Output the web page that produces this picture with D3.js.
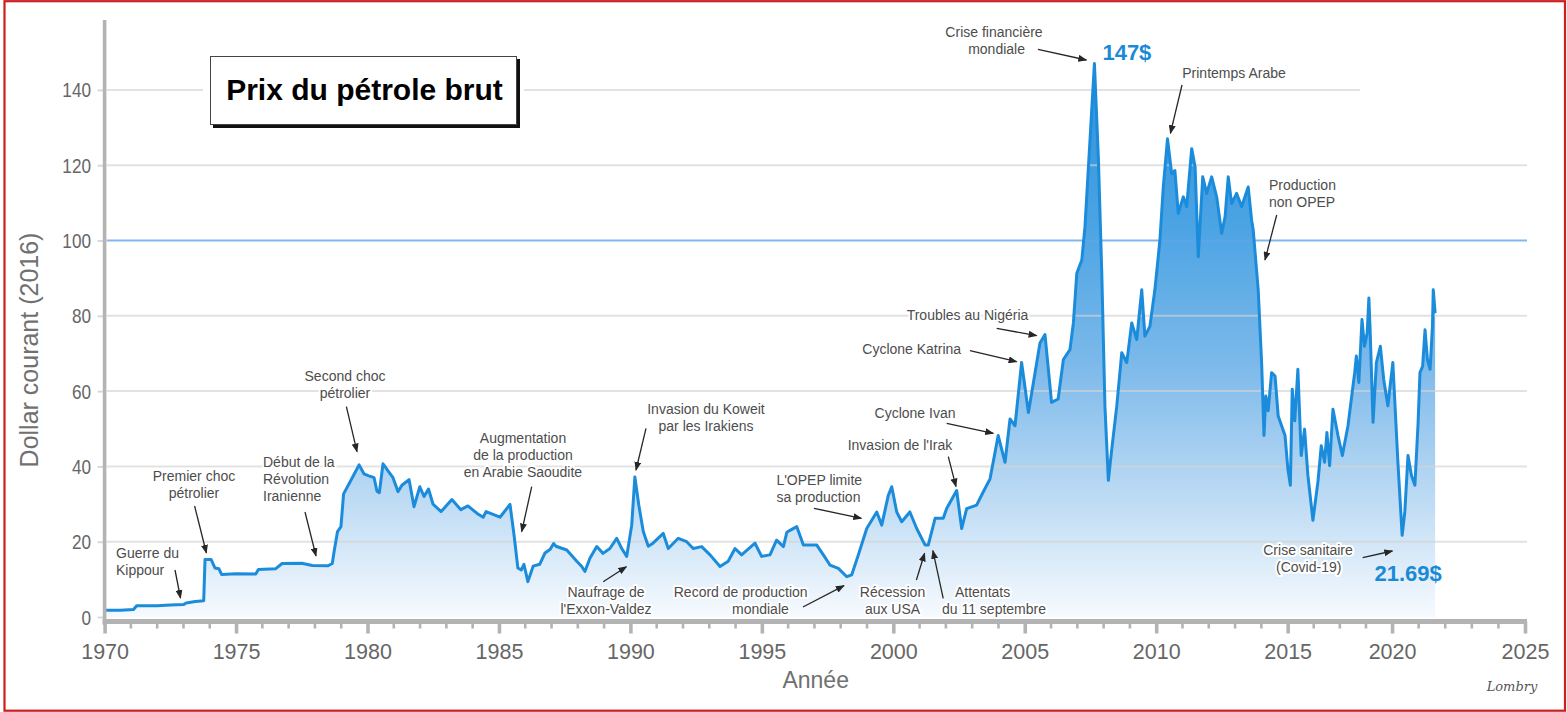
<!DOCTYPE html>
<html>
<head>
<meta charset="utf-8">
<script src="https://cdn.jsdelivr.net/npm/d3@7"></script>
<style>
  html, body { margin: 0; padding: 0; background: #ffffff; }
  svg { display: block; }
  text { font-family: "Liberation Sans", Arial, sans-serif; }
</style>
</head>
<body>
<svg id="chart" width="1567" height="712"></svg>
<script>
// Crude oil price, current dollars (time in decimal years)
const years = [
  1970.00, 1970.60, 1971.10, 1971.22, 1972.00, 1972.50, 1973.00, 1973.10, 1973.45, 1973.77,
  1973.82, 1974.05, 1974.20, 1974.35, 1974.45, 1975.00, 1975.75, 1975.85, 1976.50, 1976.75,
  1977.50, 1977.90, 1978.50, 1978.66, 1978.73, 1978.86, 1978.99, 1979.09, 1979.40, 1979.68,
  1979.87, 1980.05, 1980.25, 1980.36, 1980.45, 1980.59, 1980.76, 1980.97, 1981.16, 1981.31,
  1981.58, 1981.77, 1981.99, 1982.15, 1982.32, 1982.49, 1982.80, 1983.21, 1983.55, 1983.82,
  1984.17, 1984.40, 1984.51, 1985.04, 1985.42, 1985.57, 1985.72, 1985.85, 1985.95, 1986.10,
  1986.30, 1986.55, 1986.75, 1986.95, 1987.08, 1987.17, 1987.58, 1987.96, 1988.15, 1988.27,
  1988.46, 1988.72, 1988.96, 1989.22, 1989.48, 1989.67, 1989.86, 1990.05, 1990.17, 1990.32,
  1990.49, 1990.68, 1990.86, 1991.25, 1991.44, 1991.82, 1992.14, 1992.39, 1992.71, 1993.03,
  1993.41, 1993.72, 1993.98, 1994.23, 1994.74, 1994.99, 1995.31, 1995.56, 1995.82, 1995.95,
  1996.07, 1996.33, 1996.58, 1997.09, 1997.34, 1997.59, 1997.91, 1998.23, 1998.42, 1998.67,
  1998.99, 1999.37, 1999.56, 1999.81, 1999.94, 2000.13, 2000.32, 2000.63, 2000.89, 2001.21,
  2001.33, 2001.59, 2001.90, 2002.03, 2002.41, 2002.60, 2002.79, 2003.17, 2003.42, 2003.68,
  2003.99, 2004.25, 2004.44, 2004.63, 2004.88, 2005.14, 2005.33, 2005.58, 2005.77, 2006.02,
  2006.27, 2006.47, 2006.72, 2006.85, 2006.98, 2007.17, 2007.29, 2007.48, 2007.65, 2007.80,
  2007.93, 2008.05, 2008.18, 2008.31, 2008.50, 2008.69, 2008.88, 2009.07, 2009.26, 2009.45,
  2009.57, 2009.76, 2009.95, 2010.14, 2010.27, 2010.43, 2010.59, 2010.71, 2010.84, 2011.03,
  2011.16, 2011.35, 2011.48, 2011.60, 2011.77, 2011.92, 2012.11, 2012.30, 2012.49, 2012.62,
  2012.74, 2012.87, 2013.06, 2013.25, 2013.50, 2013.63, 2013.69, 2013.88, 2014.01, 2014.10,
  2014.17, 2014.26, 2014.39, 2014.52, 2014.64, 2014.77, 2014.90, 2015.01, 2015.13, 2015.22,
  2015.34, 2015.49, 2015.65, 2015.81, 2015.97, 2016.21, 2016.45, 2016.61, 2016.77, 2016.88,
  2017.01, 2017.17, 2017.41, 2017.62, 2017.89, 2018.21, 2018.29, 2018.41, 2018.56, 2018.68,
  2018.81, 2018.89, 2018.95, 2019.09, 2019.25, 2019.44, 2019.60, 2019.80, 2020.03, 2020.22,
  2020.38, 2020.48, 2020.60, 2020.73, 2020.86, 2020.98, 2021.05, 2021.15, 2021.24, 2021.33,
  2021.43, 2021.52, 2021.55, 2021.62
];
const prices = [
  1.8, 1.8, 2.0, 3.0, 3.0, 3.2, 3.3, 3.7, 4.1, 4.3,
  15.3, 15.3, 13.0, 12.8, 11.3, 11.5, 11.4, 12.6, 12.8, 14.2,
  14.3, 13.7, 13.6, 14.2, 17.4, 22.7, 24.0, 32.7, 36.7, 40.4,
  38.0, 37.5, 37.0, 33.4, 33.0, 40.7, 39.0, 37.0, 33.3, 35.0,
  36.5, 29.3, 34.6, 32.0, 34.0, 30.0, 28.0, 31.2, 28.5, 29.5,
  27.5, 26.5, 28.0, 26.5, 29.9, 22.0, 13.0, 12.5, 14.0, 9.4,
  13.5, 14.0, 17.0, 18.0, 19.5, 18.8, 17.8, 14.8, 13.4, 12.1,
  15.6, 18.7, 16.9, 18.2, 20.9, 18.2, 16.1, 24.4, 37.2, 29.7,
  22.7, 18.8, 19.6, 22.2, 18.2, 20.9, 20.0, 18.2, 18.7, 16.5,
  13.4, 14.8, 18.2, 16.5, 19.6, 16.1, 16.5, 20.4, 18.7, 22.5,
  23.0, 24.0, 19.1, 19.1, 16.5, 13.8, 12.9, 10.7, 11.2, 16.5,
  23.5, 27.9, 24.4, 32.3, 34.6, 27.9, 25.3, 27.9, 23.5, 19.1,
  19.1, 26.2, 26.2, 28.8, 33.6, 23.5, 28.8, 29.7, 33.2, 36.7,
  48.2, 41.1, 52.6, 50.8, 67.6, 54.3, 62.3, 72.8, 75.0, 57.0,
  57.9, 68.4, 71.0, 78.1, 91.3, 94.8, 103.6, 126.5, 147, 122.0,
  91.3, 56.0, 36.3, 44.6, 56.0, 70.2, 67.6, 78.1, 73.7, 86.9,
  74.6, 77.2, 86.9, 100.0, 114.2, 127.0, 117.7, 118.6, 107.2, 111.6,
  109.0, 124.4, 119.5, 95.7, 116.9, 112.5, 116.9, 111.6, 101.9, 106.3,
  116.9, 109.8, 112.5, 109.0, 114.2, 105.4, 102.8, 86.9, 67.6, 48.2,
  58.7, 54.8, 64.9, 64.0, 53.4, 50.8, 48.2, 39.4, 35.0, 60.5,
  52.1, 65.8, 42.9, 49.9, 37.6, 25.7, 35.9, 45.5, 41.1, 49.0,
  40.2, 55.2, 48.2, 42.9, 50.8, 64.9, 69.3, 62.3, 79.0, 71.9,
  75.5, 84.7, 76.3, 51.7, 67.6, 71.9, 63.1, 56.1, 67.6, 41.1,
  21.69, 27.9, 42.9, 37.6, 35.0, 51.7, 64.9, 66.6, 76.3, 68.4,
  65.8, 77.2, 86.9, 80.7
];

const majorYears  = [1970, 1975, 1980, 1985, 1990, 1995, 2000, 2005, 2010, 2015, 2020, 2025];
const majorLabels = ["1970", "1975", "1980", "1985", "1990", "1995", "2000", "2005", "2010", "2015", "2020", "2025"];
const priceTicks  = [0, 20, 40, 60, 80, 100, 120, 140];
const priceLabels = ["0", "20", "40", "60", "80", "100", "120", "140"];

const titleText  = "Prix du pétrole brut";
const xTitle     = "Année";
const yTitle     = "Dollar courant (2016)";
const signature  = "Lombry";

// Event notes: text lines, line positions and arrow (start -> tip)
const notes = [
  { lines: ["Guerre du", "Kippour"], x: 116, y: 553, anchor: "start", arrow: [175, 570, 180.5, 598] },
  { lines: ["Premier choc", "pétrolier"], x: 194, y: 476, arrow: [194.6, 506, 206.4, 553] },
  { lines: ["Début de la", "Révolution", "Iranienne"], x: 263, y: 462, anchor: "start", arrow: [305, 512, 316, 556] },
  { lines: ["Second choc", "pétrolier"], x: 345, y: 376, arrow: [346.4, 406.7, 357, 451.7] },
  { lines: ["Augmentation", "de la production", "en Arabie Saoudite"], x: 523, y: 438, arrow: [531.7, 486.7, 521.7, 531.7] },
  { lines: ["Naufrage de", "l'Exxon-Valdez"], x: 606, y: 592, arrow: [603.2, 581.7, 626.4, 566.7] },
  { lines: ["Invasion du Koweit", "par les Irakiens"], x: 706, y: 409, arrow: [646, 428.3, 636, 470] },
  { lines: ["Record de production", "mondiale"], xs: [740.7, 760.4], y: 592, arrow: [803, 607, 844, 585.7] },
  { lines: ["L'OPEP limite", "sa production"], x: 776.4, y: 480, anchor: "start", arrow: [814, 508.3, 861.4, 518.3] },
  { lines: ["Récession", "aux USA"], x: 892.5, y: 592, arrow: [916.4, 580, 924.6, 553.3] },
  { lines: ["Attentats", "du 11 septembre"], xs: [982.6, 994], y: 592, arrow: [943.2, 598.3, 932.9, 550.7] },
  { lines: ["Invasion de l'Irak"], x: 900, y: 445, arrow: [948.3, 456.7, 956, 486.7] },
  { lines: ["Cyclone Ivan"], x: 915, y: 413.3, arrow: [946.7, 423.3, 993.3, 433.3] },
  { lines: ["Cyclone Katrina"], x: 911.7, y: 349.3, arrow: [970, 350.7, 1016.7, 361.7] },
  { lines: ["Troubles au Nigéria"], x: 967.5, y: 315, arrow: [996.7, 328.3, 1036.7, 335.7] },
  { lines: ["Crise financière", "mondiale"], xs: [994, 996.6], y: 31.7, arrow: [1038, 49.3, 1086.4, 60] },
  { lines: ["Printemps Arabe"], x: 1234, y: 72.7, arrow: [1182, 85, 1170.4, 133.3] },
  { lines: ["Production", "non OPEP"], x: 1269, y: 185, anchor: "start", arrow: [1276.7, 215, 1265, 260] },
  { lines: ["Crise sanitaire", "(Covid-19)"], xs: [1308, 1308.7], y: 550, arrow: [1362.7, 557.7, 1392.4, 551] }
];

const data = years.map((yr, i) => ({ year: yr, price: prices[i] }));

const svg = d3.select("#chart");
const W = 1567, H = 712;

// Scales: the time axis is piecewise (the 2015-2020 stretch is narrower on this chart)
const X0 = 104.6, U = 26.29;
const x = d3.scaleLinear()
  .domain([1970, 2015, 2020, 2025])
  .range([X0, X0 + 45 * U, X0 + 45 * U + 104.4, 1525]);
const y = d3.scaleLinear().domain([0, 140]).range([617, 89.9]);

const defs = svg.append("defs");
const grad = defs.append("linearGradient")
  .attr("id", "areaFill").attr("gradientUnits", "userSpaceOnUse")
  .attr("x1", 0).attr("x2", 0).attr("y1", y(150)).attr("y2", y(0));
[[0, "#2c8fdc"], [0.3, "#4aa3e3"], [0.55, "#7cb9ea"], [0.75, "#b2d5f2"], [0.9, "#dbebf9"], [1, "#f6fafe"]]
  .forEach(([o, c]) => grad.append("stop").attr("offset", o).attr("stop-color", c));

defs.append("marker")
  .attr("id", "arrowhead").attr("viewBox", "0 0 10 10")
  .attr("refX", 9).attr("refY", 5)
  .attr("markerWidth", 9).attr("markerHeight", 7)
  .attr("markerUnits", "userSpaceOnUse").attr("orient", "auto")
  .attr("preserveAspectRatio", "none")
  .append("path").attr("d", "M0,0L10,5L0,10z").attr("fill", "#262626");

// Background
svg.append("rect").attr("width", W).attr("height", H).attr("fill", "#ffffff");

// Area under the price curve
svg.append("path").datum(data)
  .attr("fill", "url(#areaFill)")
  .attr("d", d3.area().x(d => x(d.year)).y0(y(0)).y1(d => y(d.price)));

// Horizontal gridlines (drawn over the fill, under the curve)
const grid = svg.append("g");
priceTicks.filter(v => v > 0).forEach(v => {
  grid.append("line")
    .attr("x1", X0 + 2).attr("x2", v === 140 ? 1360 : 1527)
    .attr("y1", y(v)).attr("y2", y(v))
    .attr("stroke", v === 100 ? "rgba(95,165,235,0.8)" : "rgba(210,210,210,0.65)")
    .attr("stroke-width", v === 100 ? 1.8 : 2);
});

// Price curve
svg.append("path").datum(data)
  .attr("fill", "none")
  .attr("stroke", "#1b8cdb")
  .attr("stroke-width", 3)
  .attr("stroke-linejoin", "round")
  .attr("d", d3.line().x(d => x(d.year)).y(d => y(d.price)));

// Y axis
const yAxis = svg.append("g").attr("transform", `translate(${X0},0)`)
  .call(d3.axisLeft(y).tickValues(priceTicks).tickFormat((d, i) => priceLabels[i]).tickSize(7).tickSizeOuter(0));
yAxis.select(".domain").remove();
yAxis.selectAll(".tick line").attr("stroke", "#d8d8d8").attr("stroke-width", 2);
yAxis.selectAll(".tick text")
  .attr("x", -15.5).attr("dy", "0.36em")
  .attr("transform", "scale(0.88,1)")
  .attr("fill", "#666").attr("font-size", 19.5)
  .style("font-family", "'Liberation Sans', Arial, sans-serif");
svg.append("line").attr("x1", X0).attr("x2", X0).attr("y1", 20).attr("y2", 625)
  .attr("stroke", "#b3b3b3").attr("stroke-width", 3.6);

// X axis: minor ticks spread evenly inside each five-year interval
const minorG = svg.append("g");
for (let i = 0; i < majorYears.length - 1; i++) {
  const a = majorYears[i], b = majorYears[i + 1];
  const n = Math.round((x(b) - x(a)) / U);
  d3.range(1, n).forEach(k => {
    const px = x(a) + (x(b) - x(a)) * k / n;
    minorG.append("line").attr("x1", px).attr("x2", px).attr("y1", 621.5).attr("y2", 628.5)
      .attr("stroke", "#b3b3b3").attr("stroke-width", 2.6);
  });
}
const xAxis = svg.append("g").attr("transform", "translate(0,621.5)")
  .call(d3.axisBottom(x).tickValues(majorYears).tickFormat((d, i) => majorLabels[i]).tickSize(12).tickSizeOuter(0));
xAxis.select(".domain").attr("stroke", "#b3b3b3").attr("stroke-width", 5).attr("d", `M${X0 - 2},0H1527`);
xAxis.selectAll(".tick line").attr("stroke", "#b3b3b3").attr("stroke-width", 3.6);
xAxis.selectAll(".tick text")
  .attr("y", 22).attr("fill", "#666").attr("font-size", 21.5)
  .style("font-family", "'Liberation Sans', Arial, sans-serif");

// Axis titles
svg.append("text").attr("x", 815.7).attr("y", 688).attr("text-anchor", "middle")
  .attr("font-size", 23).attr("fill", "#707070").text(xTitle);
svg.append("text").attr("transform", "translate(38,350) rotate(-90)").attr("text-anchor", "middle")
  .attr("font-size", 25).attr("fill", "#707070").text(yTitle);

// Event notes
const notesG = svg.append("g");
notes.forEach(n => {
  notesG.append("line")
    .attr("x1", n.arrow[0]).attr("y1", n.arrow[1]).attr("x2", n.arrow[2]).attr("y2", n.arrow[3])
    .attr("stroke", "#262626").attr("stroke-width", 1.3)
    .attr("marker-end", "url(#arrowhead)");
  n.lines.forEach((t, i) => {
    notesG.append("text")
      .attr("x", n.xs ? n.xs[i] : n.x)
      .attr("y", n.y + i * 17 + 5)
      .attr("text-anchor", n.anchor || "middle")
      .attr("font-size", 14).attr("fill", "#4d4d4d")
      .attr("stroke", "#ffffff").attr("stroke-width", 4).attr("stroke-linejoin", "round")
      .attr("paint-order", "stroke")
      .text(t);
  });
});

// Value callouts for the record high and the 2020 low
const peak = data.reduce((a, b) => (b.price > a.price ? b : a));
const low2020 = data.filter(d => d.year > 2019).reduce((a, b) => (b.price < a.price ? b : a));
svg.append("text").attr("x", x(peak.year) + 8).attr("y", y(peak.price) - 4)
  .attr("font-size", 22).attr("font-weight", "bold").attr("fill", "#1a8ad6")
  .text(`${peak.price}$`);
svg.append("text").attr("x", x(low2020.year) + 6).attr("y", y(low2020.price) + 46)
  .attr("text-anchor", "middle")
  .attr("font-size", 22).attr("font-weight", "bold").attr("fill", "#1a8ad6")
  .text(`${low2020.price}$`);

// Title box with drop shadow
svg.append("rect").attr("x", 203).attr("y", 50).attr("width", 321).attr("height", 82).attr("fill", "#ffffff");
svg.append("rect").attr("x", 213).attr("y", 59).attr("width", 307).attr("height", 69).attr("fill", "#111");
svg.append("rect").attr("x", 210.5).attr("y", 56.5).attr("width", 306).attr("height", 68)
  .attr("fill", "#ffffff").attr("stroke", "#444").attr("stroke-width", 1);
svg.append("text").attr("x", 364.5).attr("y", 100).attr("text-anchor", "middle")
  .attr("font-size", 30).attr("font-weight", "bold").attr("fill", "#000").text(titleText);

// Signature
svg.append("text").attr("x", 1512).attr("y", 691).attr("text-anchor", "middle")
  .attr("font-size", 13).attr("font-style", "italic").attr("fill", "#555")
  .style("font-family", "'DejaVu Serif', serif").text(signature);

// Outer frame
svg.append("rect").attr("x", 4.5).attr("y", 1.2).attr("width", 1560.5).attr("height", 709.5)
  .attr("fill", "none").attr("stroke", "#cc1f1f").attr("stroke-width", 2.2);
</script>
</body>
</html>
